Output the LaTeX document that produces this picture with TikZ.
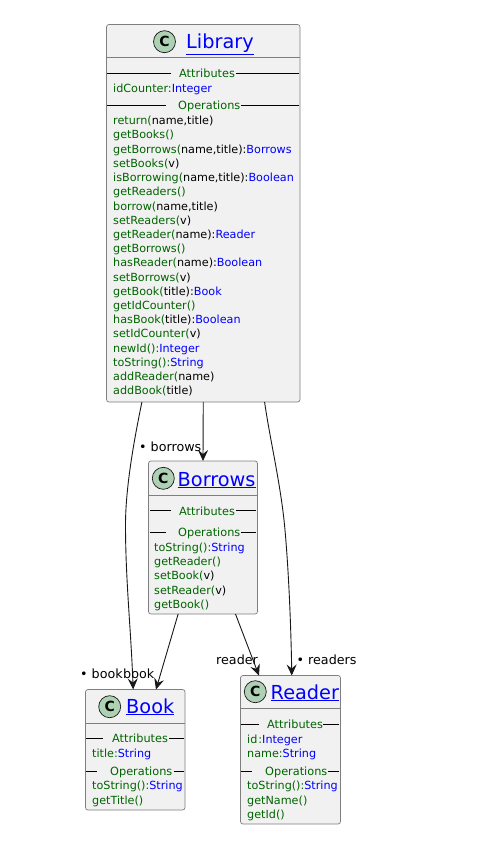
\documentclass[tikz,border=0pt]{standalone}
\usepackage{fontspec}
\setmainfont{DejaVu Sans}
\usetikzlibrary{arrows.meta}
\definecolor{boxfill}{HTML}{F1F1F1}
\definecolor{boxline}{HTML}{7F7F7F}
\definecolor{spot}{HTML}{ADD1B2}
\definecolor{ink}{HTML}{181818}
\definecolor{grn}{HTML}{006400}
\definecolor{blu}{HTML}{0000FF}
\newcommand{\G}[1]{\textcolor{grn}{#1}}
\newcommand{\B}[1]{\textcolor{blu}{#1}}
\tikzset{
  classbox/.style={draw=boxline,fill=boxfill,line width=0.7pt,rounded corners=2.5pt,inner sep=0pt,outer sep=0pt},
  member/.style={anchor=base west,inner sep=0pt,yshift=-0.7pt,font=\fontsize{11.2}{12}\selectfont},
  sechead/.style={anchor=base west,inner sep=0pt,yshift=-0.7pt,font=\fontsize{11.3}{12}\selectfont,text=grn},
  classtitle/.style={anchor=base west,inner sep=0pt,font=\fontsize{19.3}{21}\selectfont,text=blu},
  spotc/.style={circle,draw=ink,fill=spot,line width=0.7pt,minimum size=22pt,inner sep=0pt,font=\fontsize{14}{14}\bfseries\selectfont},
  role/.style={anchor=base west,inner sep=0pt,font=\fontsize{12.7}{14}\selectfont,text=black},
  rule/.style={draw=black,line width=0.7pt},
  divider/.style={draw=boxline,line width=0.7pt},
  assoc/.style={draw=ink,line width=0.9pt,-{Stealth[length=11pt,width=10pt,inset=4pt]}},
}
\begin{document}
\begin{tikzpicture}[x=1pt,y=-1pt]
\useasboundingbox (0,0) rectangle (486,851);
% Library
\node[classbox,minimum width=193.5pt,minimum height=377.5pt] (lib) at (203.25,213.25) {};
\node[spotc] (libc) at (164.5,41.7) {C};
\node[classtitle] (libt) at (186,48.3) {\underline{Library}};
\draw[divider] (106.5,57) -- (300,57);
\draw[rule] (107,73) -- (170.7,73) (236,73) -- (299,73);
\node[sechead] (liba) at (179,77) {Attributes};
\node[member] (lib0) at (113,92) {\G{idCounter:}\B{Integer}};
\draw[rule] (107,105) -- (165.7,105) (241,105) -- (299,105);
\node[sechead] (libo) at (178,109) {Operations};
\node[member] (lib1) at (113,124.0) {\G{return(}name,title)};
\node[member] (lib2) at (113,138.2) {\G{getBooks()}};
\node[member] (lib3) at (113,152.4) {\G{getBorrows(}name,title):\B{Borrows}};
\node[member] (lib4) at (113,166.6) {\G{setBooks(}v)};
\node[member] (lib5) at (113,180.8) {\G{isBorrowing(}name,title):\B{Boolean}};
\node[member] (lib6) at (113,195.0) {\G{getReaders()}};
\node[member] (lib7) at (113,209.3) {\G{borrow(}name,title)};
\node[member] (lib8) at (113,223.5) {\G{setReaders(}v)};
\node[member] (lib9) at (113,237.7) {\G{getReader(}name):\B{Reader}};
\node[member] (lib10) at (113,251.9) {\G{getBorrows()}};
\node[member] (lib11) at (113,266.1) {\G{hasReader(}name):\B{Boolean}};
\node[member] (lib12) at (113,280.3) {\G{setBorrows(}v)};
\node[member] (lib13) at (113,294.5) {\G{getBook(}title):\B{Book}};
\node[member] (lib14) at (113,308.7) {\G{getIdCounter()}};
\node[member] (lib15) at (113,322.9) {\G{hasBook(}title):\B{Boolean}};
\node[member] (lib16) at (113,337.1) {\G{setIdCounter(}v)};
\node[member] (lib17) at (113,351.3) {\G{newId():}\B{Integer}};
\node[member] (lib18) at (113,365.5) {\G{toString():}\B{String}};
\node[member] (lib19) at (113,379.8) {\G{addReader(}name)};
\node[member] (lib20) at (113,394.0) {\G{addBook(}title)};
% Borrows
\node[classbox,minimum width=109pt,minimum height=153pt] (bor) at (203,537.5) {};
\node[spotc] (borc) at (163.3,478.3) {C};
\node[classtitle] (bort) at (177.5,486) {\underline{Borrows}};
\draw[divider] (148.5,495) -- (257.5,495);
\draw[rule] (150,510.5) -- (170.5,510.5) (236,510.5) -- (256,510.5);
\node[sechead] (bora) at (179,514.5) {Attributes};
\draw[rule] (150,532) -- (165.5,532) (241,532) -- (256,532);
\node[sechead] (boro) at (178,536) {Operations};
\node[member] (bor1) at (154,551) {\G{toString():}\B{String}};
\node[member] (bor2) at (154,565) {\G{getReader()}};
\node[member] (bor3) at (154,579.2) {\G{setBook(}v)};
\node[member] (bor4) at (154,593.5) {\G{setReader(}v)};
\node[member] (bor5) at (154,607.7) {\G{getBook()}};
% Book
\node[classbox,minimum width=99.5pt,minimum height=120.5pt] (bok) at (135.25,749.75) {};
\node[spotc] (bokc) at (109.7,706.7) {C};
\node[classtitle] (bokt) at (126,713) {\underline{Book}};
\draw[divider] (85.5,723) -- (185,723);
\draw[rule] (86,738) -- (103,738) (169,738) -- (184,738);
\node[sechead] (boka) at (112,742) {Attributes};
\node[member] (bok0) at (92,757) {\G{title:}\B{String}};
\draw[rule] (86,771) -- (97.3,771) (173.5,771) -- (184,771);
\node[sechead] (boko) at (110,775) {Operations};
\node[member] (bok1) at (92,789) {\G{toString():}\B{String}};
\node[member] (bok2) at (92,804) {\G{getTitle()}};
% Reader
\node[classbox,minimum width=100pt,minimum height=148.5pt] (rea) at (290.5,749.75) {};
\node[spotc] (reac) at (255.3,691.7) {C};
\node[classtitle] (reat) at (270.5,699) {\underline{Reader}};
\draw[divider] (240.5,708) -- (340.5,708);
\draw[rule] (241,724) -- (258.7,724) (323,724) -- (339,724);
\node[sechead] (reaa) at (267,728) {Attributes};
\node[member] (rea0) at (247,743) {\G{id\hspace{1pt}:}\B{Integer}};
\node[member] (rea1) at (247,757) {\G{name:}\B{String}};
\draw[rule] (241,771) -- (252,771) (328,771) -- (339,771);
\node[sechead] (reao) at (265,775) {Operations};
\node[member] (rea2) at (247,789) {\G{toString():}\B{String}};
\node[member] (rea3) at (247,804) {\G{getName()}};
\node[member] (rea4) at (247,818) {\G{getId()}};
% Connectors
\draw[assoc] (lib.-108) .. controls (133,445) and (125.5,490) .. (125.5,525) .. controls (125.5,580) and (131,630) .. (bok.92.85);
\draw[assoc] (lib.-90) -- (bor.north);
\draw[assoc] (lib.-72.7) .. controls (270,440) and (281,485) .. (285,530) .. controls (289,575) and (291,630) .. (rea.89.6);
\draw[assoc] (bor.-108.1) -- (bok.71.85);
\draw[assoc] (bor.-67.9) -- (rea.113);
% Roles
\node[role] (r1) at (139,451) {• borrows};
\node[role] (r2) at (80,678) {• book};
\node[role] (r3) at (123,678) {book};
\node[role] (r4) at (216,664) {reader};
\node[role] (r5) at (296.5,664) {• readers};
\end{tikzpicture}
\end{document}
